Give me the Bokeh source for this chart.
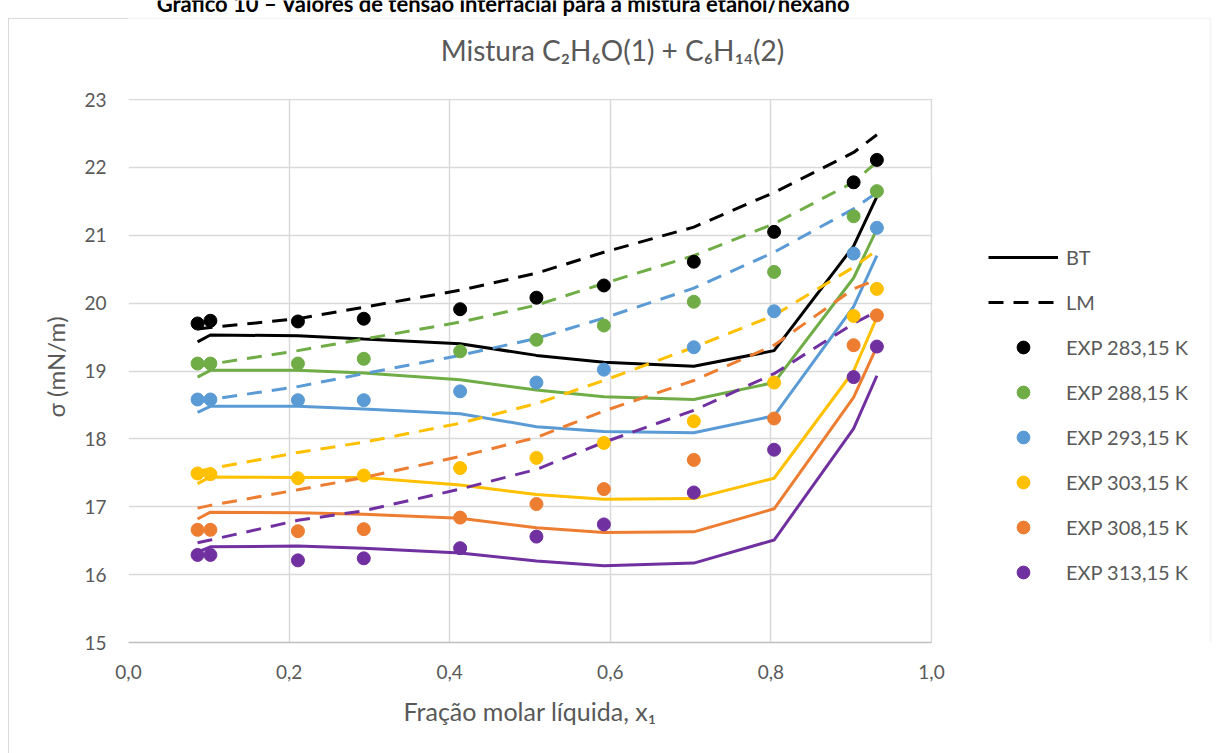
from bokeh.plotting import figure
from bokeh.models import (Range1d, FixedTicker, CustomJSTickFormatter, Label,
                          Legend, LegendItem, BoxAnnotation, Title)
from bokeh.embed import file_html
from bokeh.resources import INLINE

# ---------------- data ----------------
x1 = [0.086, 0.102, 0.211, 0.293, 0.413, 0.508, 0.592, 0.704, 0.804, 0.903, 0.932]

temps = ["283,15", "288,15", "293,15", "303,15", "308,15", "313,15"]
colors = ["#000000", "#70AD47", "#5B9BD5", "#FFC000", "#ED7D31", "#7030A0"]

exp_283 = [19.70, 19.74, 19.73, 19.77, 19.91, 20.08, 20.26, 20.61, 21.05, 21.78, 22.11]
bt_283 = [19.43, 19.53, 19.52, 19.47, 19.40, 19.23, 19.13, 19.07, 19.30, 20.84, 21.57]
lm_283 = [19.62, 19.64, 19.77, 19.94, 20.19, 20.44, 20.75, 21.12, 21.63, 22.22, 22.48]

exp_288 = [19.11, 19.11, 19.11, 19.18, 19.29, 19.46, 19.67, 20.02, 20.46, 21.28, 21.65]
bt_288 = [18.91, 19.01, 19.01, 18.97, 18.87, 18.72, 18.62, 18.58, 18.83, 20.37, 21.09]
lm_288 = [19.07, 19.10, 19.30, 19.47, 19.72, 19.97, 20.29, 20.70, 21.17, 21.78, 22.08]

exp_293 = [18.58, 18.58, 18.57, 18.57, 18.70, 18.83, 19.02, 19.35, 19.88, 20.73, 21.11]
bt_293 = [18.39, 18.48, 18.48, 18.44, 18.37, 18.18, 18.11, 18.09, 18.34, 19.95, 20.70]
lm_293 = [18.55, 18.58, 18.77, 18.96, 19.23, 19.48, 19.78, 20.22, 20.75, 21.39, 21.63]

exp_303 = [17.49, 17.48, 17.42, 17.46, 17.57, 17.72, 17.94, 18.26, 18.83, 19.81, 20.21]
bt_303 = [17.34, 17.44, 17.43, 17.43, 17.32, 17.18, 17.11, 17.12, 17.42, 19.00, 19.79]
lm_303 = [17.52, 17.56, 17.80, 17.95, 18.23, 18.52, 18.86, 19.35, 19.82, 20.53, 20.78]

exp_308 = [16.66, 16.66, 16.64, 16.67, 16.84, 17.04, 17.26, 17.69, 18.30, 19.38, 19.82]
bt_308 = [16.82, 16.92, 16.91, 16.89, 16.83, 16.69, 16.62, 16.63, 16.97, 18.61, 19.36]
lm_308 = [16.98, 17.02, 17.25, 17.43, 17.74, 18.02, 18.41, 18.86, 19.38, 20.21, 20.35]

exp_313 = [16.29, 16.29, 16.21, 16.24, 16.39, 16.56, 16.74, 17.21, 17.84, 18.91, 19.36]
bt_313 = [16.33, 16.41, 16.42, 16.39, 16.32, 16.20, 16.13, 16.17, 16.51, 18.15, 18.93]
lm_313 = [16.47, 16.51, 16.80, 16.94, 17.26, 17.55, 17.95, 18.42, 18.96, 19.70, 19.88]

exp_all = [exp_283, exp_288, exp_293, exp_303, exp_308, exp_313]
bt_all = [bt_283, bt_288, bt_293, bt_303, bt_308, bt_313]
lm_all = [lm_283, lm_288, lm_293, lm_303, lm_308, lm_313]

x_ticks = [0.0, 0.2, 0.4, 0.6, 0.8, 1.0]
y_ticks = [15, 16, 17, 18, 19, 20, 21, 22, 23]

FONT = "Lato"
GREY = "#595959"

# ---------------- geometry ----------------
W, H = 1216, 753
FL, FB = 128, 642           # frame left / bottom (canvas px)
PX_X = 803.0                # px per x unit  (0 -> 128, 1 -> 931)
PX_Y = 543.0 / 8.0          # px per y unit  (15 -> 642, 23 -> 99)
# frame covers the whole area right of the y axis and above the x axis,
# so the legend and titles can be drawn inside it
x_end = (W - FL) / PX_X
y_end = 15 + FB / PX_Y

p = figure(width=W, height=H, x_range=Range1d(0, x_end), y_range=Range1d(15, y_end),
           output_backend="svg", toolbar_location=None, title=None,
           min_border_left=FL, min_border_right=0, min_border_top=0,
           min_border_bottom=H - FB)
p.outline_line_color = None
p.background_fill_color = "white"
p.border_fill_alpha = 0
ln = "linear-gradient(#d9d9d9,#d9d9d9)"
p.styles = {
    "background-color": "white",
    "background-image": f"{ln},{ln}",
    "background-size": "1px 740px, 130px 1px",
    "background-position": "8px 18px, 8px 18px",
    "background-repeat": "no-repeat",
}

for g, t in ((p.xgrid, x_ticks), (p.ygrid, y_ticks)):
    g.ticker = FixedTicker(ticks=t)
    g.grid_line_color = "#d9d9d9"
    g.grid_line_width = 1.5

p.xaxis.ticker = FixedTicker(ticks=x_ticks)
p.xaxis.formatter = CustomJSTickFormatter(code="return tick.toFixed(1).replace('.', ',');")
p.yaxis.ticker = FixedTicker(ticks=y_ticks)
p.xaxis.bounds = (0, 1)
p.yaxis.bounds = (15, 23)
for ax in (p.xaxis, p.yaxis):
    ax.major_tick_line_color = None
    ax.minor_tick_line_color = None
    ax.major_tick_out = 0
    ax.major_tick_in = 0
    ax.major_label_text_font = FONT
    ax.major_label_text_font_size = "19px"
    ax.major_label_text_color = GREY
p.xaxis.axis_line_color = "#bfbfbf"
p.xaxis.axis_line_width = 1.5
p.yaxis.axis_line_color = None
p.xaxis.major_label_standoff = 22
p.yaxis.major_label_standoff = 22

# axis titles (placed as side-panel titles so they centre on the plot area)
p.add_layout(Title(text="Fração molar líquida, x₁", align="left", offset=275,
                   standoff=24, text_font=FONT, text_font_size="25px",
                   text_font_style="normal", text_color=GREY), "below")
p.add_layout(Title(text="σ (mN/m)", align="left", offset=225,
                   standoff=23, text_font=FONT, text_font_size="24px",
                   text_font_style="normal", text_color=GREY), "left")

# white covers hide grid lines beyond the plot area (x > 1, y > 23)
p.add_layout(BoxAnnotation(left=1.0 + 0.8 / PX_X, fill_color="white", fill_alpha=1,
                           line_color=None, level="underlay"))
p.add_layout(BoxAnnotation(bottom=23 + 0.8 / PX_Y, fill_color="white", fill_alpha=1,
                           line_color=None, level="underlay"))

# chart-area border (top / right edges; left edge is CSS)
p.add_layout(BoxAnnotation(left=8 - FL, right=1210 - FL, top=FB - 18, bottom=-300,
                           left_units="screen", right_units="screen",
                           top_units="screen", bottom_units="screen",
                           fill_alpha=0, line_color="#d9d9d9", line_width=1.5))

# ---------------- series ----------------
bt_r, lm_r, exp_r = [], [], []
for c, bt, lm in zip(colors, bt_all, lm_all):
    bt_r.append(p.line(x1, bt, line_color=c, line_width=3))
    lm_r.append(p.line(x1, lm, line_color=c, line_width=3, line_dash="15 10"))
for c, ex in zip(colors, exp_all):
    exp_r.append(p.scatter(x1, ex, size=13, marker="circle", fill_color=c, line_color=c))

items = [LegendItem(label="BT", renderers=[bt_r[0]]),
         LegendItem(label="LM", renderers=[lm_r[0]])]
for t, r in zip(temps, exp_r):
    items.append(LegendItem(label=f"EXP {t} K", renderers=[r]))

legend = Legend(items=items, location=(988 - FL, 54.5))
legend.border_line_color = None
legend.background_fill_alpha = 0
legend.padding = 0
legend.margin = 0
legend.spacing = 13
legend.glyph_height = 32
legend.glyph_width = 70
legend.label_height = 20
legend.label_standoff = 8
legend.label_text_font = FONT
legend.label_text_font_size = "20px"
legend.label_text_color = GREY
p.add_layout(legend)

# ---------------- titles ----------------
p.add_layout(Label(x=612 - FL, y=FB - 49, x_units="screen", y_units="screen",
                   text="Mistura C₂H₆O(1) + C₆H₁₄(2)", text_align="center",
                   text_baseline="middle", text_font=FONT, text_font_size="28px",
                   text_color=GREY))
p.add_layout(Label(x=503 - FL, y=FB - 3, x_units="screen", y_units="screen",
                   text="Gráfico 10 – Valores de tensão interfacial para a mistura etanol/hexano",
                   text_align="center", text_baseline="alphabetic", text_font=FONT,
                   text_font_size="22px", text_font_style="bold", text_color="#000000"))

open("out.html", "w").write(file_html(p, INLINE))
